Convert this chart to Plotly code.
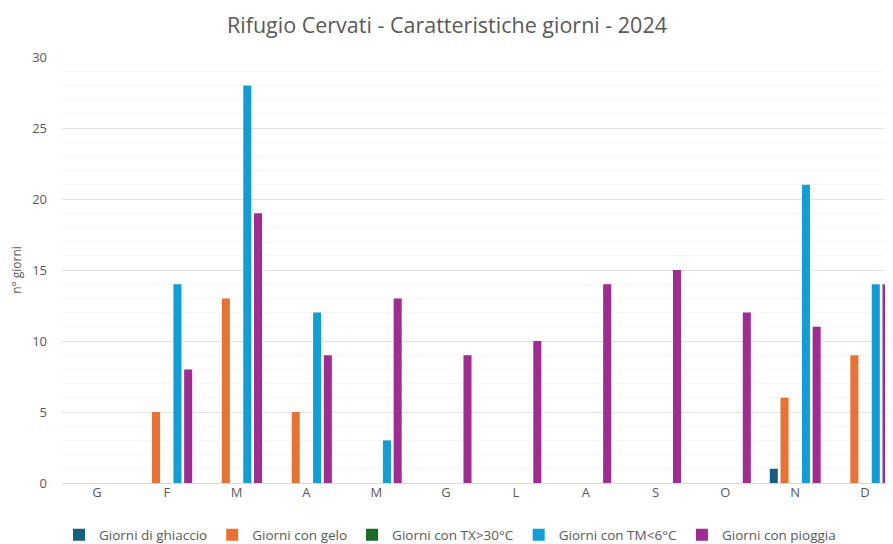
import plotly.graph_objects as go

months = ["G", "F", "M", "A", "M", "G", "L", "A", "S", "O", "N", "D"]
ghiaccio = [0, 0, 0, 0, 0, 0, 0, 0, 0, 0, 1, 0]
gelo = [0, 5, 13, 5, 0, 0, 0, 0, 0, 0, 6, 9]
tx30 = [0, 0, 0, 0, 0, 0, 0, 0, 0, 0, 0, 0]
tm6 = [0, 14, 28, 12, 3, 0, 0, 0, 0, 0, 21, 14]
pioggia = [0, 8, 19, 9, 13, 9, 10, 14, 15, 12, 11, 14]

series = [
    ("Giorni di ghiaccio", ghiaccio, "#156082"),
    ("Giorni con gelo", gelo, "#E97132"),
    ("Giorni con TX>30°C", tx30, "#196B24"),
    ("Giorni con TM<6°C", tm6, "#0F9ED5"),
    ("Giorni con pioggia", pioggia, "#A02B93"),
]

x = list(range(len(months)))
fig = go.Figure()
for name, vals, col in series:
    fig.add_trace(go.Bar(x=x, y=vals, name=name, marker_color=col, marker_line_width=0))

W, H = 885, 536  # page adds an 8px body margin
font = "Open Sans"
grey = "#595959"
fig.update_layout(
    template="none",
    width=W, height=H,
    barmode="group", bargap=0.233, bargroupgap=0.25,
    plot_bgcolor="white", paper_bgcolor="white",
    margin=dict(l=54, r=0, t=49, b=61, autoexpand=False),
    font=dict(family=font, color=grey, size=12),
    title=dict(text="Rifugio Cervati - Caratteristiche giorni - 2024",
               xref="container", x=439/W, xanchor="center",
               yref="container", y=1 - 17/H, yanchor="middle",
               font=dict(size=21.5, color=grey, family=font)),
    legend=dict(orientation="h", xref="container", x=442/W, xanchor="center",
                yref="container", y=1 - 527/H, yanchor="middle",
                font=dict(size=13.5, color=grey), itemwidth=30, traceorder="normal"),
    showlegend=True,
)
fig.update_xaxes(tickvals=x, ticktext=months, range=[-0.5, 11.4], showgrid=False,
                 zeroline=False, showline=False, ticks="", automargin=False,
                 tickfont=dict(size=13, color=grey, family=font))
fig.update_yaxes(range=[0, 30], dtick=5, showgrid=True, gridcolor="#e3e3e3", gridwidth=1,
                 zeroline=True, zerolinecolor="#d9d9d9", zerolinewidth=1, automargin=False,
                 minor=dict(dtick=1, showgrid=True, gridcolor="#f6f6f6", gridwidth=1),
                 tickfont=dict(size=13, color=grey, family=font), ticks="", ticklabelstandoff=14,
                 title=dict(text="n° giorni", font=dict(size=12, color=grey, family=font), standoff=14))
fig.write_html("out.html")
